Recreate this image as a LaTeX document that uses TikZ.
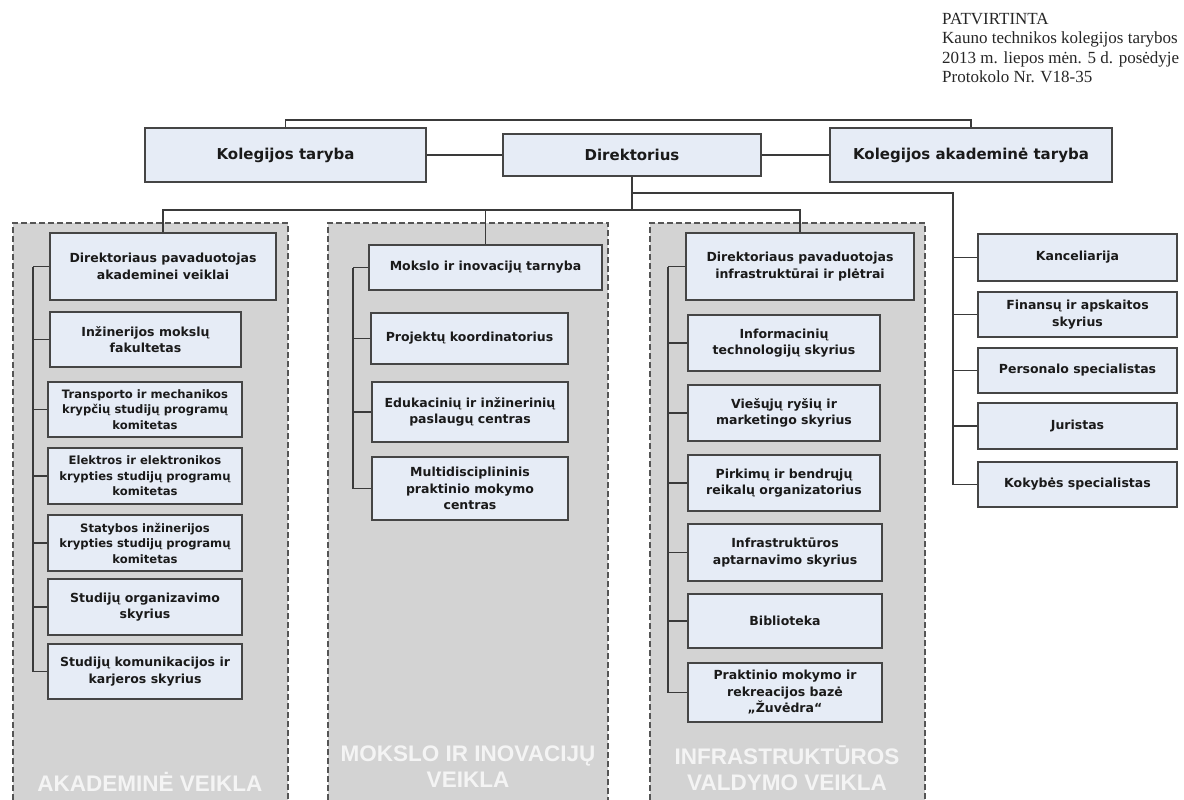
\documentclass[tikz,border=0pt]{standalone}
\usepackage{fontspec}
\setmainfont{Liberation Serif}
\newfontfamily\boxfont{DejaVu Sans}
\newfontfamily\lblfont{Liberation Sans}
\definecolor{boxfill}{HTML}{E6ECF6}
\definecolor{boxborder}{HTML}{454545}
\definecolor{linec}{HTML}{3A3A3A}
\definecolor{grpfill}{HTML}{D3D3D3}
\definecolor{grpline}{HTML}{555555}
\definecolor{textc}{HTML}{1A1A1A}
\definecolor{lblc}{HTML}{F4F4F4}
\newcommand\mkbox[7]{\node[#1, minimum width={#5-#3}, minimum height={#6-#4}] (#2) at ({(#3+#5)/2},{(#4+#6)/2}) {#7};}
\begin{document}
\begin{tikzpicture}[x=1pt,y=-1pt,
  box/.style={draw=boxborder, line width=1.4pt, fill=boxfill, align=center, inner sep=1pt, text=textc,
    font=\boxfont\bfseries\fontsize{12.5}{16.5}\selectfont},
  sbox/.style={box, font=\boxfont\bfseries\fontsize{11.6}{15.5}\selectfont},
  tbox/.style={box, font=\boxfont\bfseries\fontsize{15}{18}\selectfont},
  conn/.style={draw=linec, line width=1.3pt},
  grp/.style={fill=grpfill, draw=none},
  grpedge/.style={draw=grpline, line width=1.2pt, dash pattern=on 6pt off 3pt},
  lbl/.style={text=lblc, align=center, inner sep=0pt, font=\lblfont\bfseries\fontsize{22.5}{26}\selectfont}]
\useasboundingbox (0,0) rectangle (1184,800);
\fill[white] (0,0) rectangle (1184,800);

% approval text
\node[anchor=north west, align=left, inner sep=0pt, text=black!85, font=\fontsize{17}{19.5}\selectfont] (appr) at (942,13)
  {PATVIRTINTA\\Kauno technikos kolegijos tarybos\\2013 m. liepos mėn. 5 d. posėdyje\\Protokolo Nr. V18-35};

% group backgrounds
\fill[grp] (13,223) rectangle (288,800);
\fill[grp] (328,223) rectangle (608,800);
\fill[grp] (650,223) rectangle (925,800);
\draw[grpedge] (13,800) -- (13,223) -- (288,223) -- (288,800);
\draw[grpedge] (328,800) -- (328,223) -- (608,223) -- (608,800);
\draw[grpedge] (650,800) -- (650,223) -- (925,223) -- (925,800);

\node[lbl] (lA) at (150,782) {AKADEMINĖ VEIKLA};
\node[lbl] (lM) at (468,767) {MOKSLO IR INOVACIJŲ\\VEIKLA};
\node[lbl] (lI) at (787,768) {INFRASTRUKTŪROS\\VALDYMO VEIKLA};

% top boxes
\mkbox{tbox}{kt}{145}{128}{426}{182}{Kolegijos taryba}
\mkbox{tbox}{dir}{503}{134}{761}{176}{Direktorius}
\mkbox{tbox}{kat}{830}{128}{1112}{182}{Kolegijos akademinė taryba}

% academic group
\mkbox{box}{a1}{50}{233}{276}{300}{Direktoriaus pavaduotojas\\akademinei veiklai}
\mkbox{box}{a2}{50}{312}{241}{367}{Inžinerijos mokslų\\fakultetas}
\mkbox{sbox}{a3}{48}{382}{242}{437}{Transporto ir mechanikos\\krypčių studijų programų\\komitetas}
\mkbox{sbox}{a4}{48}{448}{242}{504}{Elektros ir elektronikos\\krypties studijų programų\\komitetas}
\mkbox{sbox}{a5}{48}{515}{242}{571}{Statybos inžinerijos\\krypties studijų programų\\komitetas}
\mkbox{box}{a6}{48}{579}{242}{635}{Studijų organizavimo\\skyrius}
\mkbox{box}{a7}{48}{644}{242}{699}{Studijų komunikacijos ir\\karjeros skyrius}

% science group
\mkbox{box}{m1}{369}{245}{602}{290}{Mokslo ir inovacijų tarnyba}
\mkbox{box}{m2}{371}{313}{568}{364}{Projektų koordinatorius}
\mkbox{box}{m3}{372}{382}{568}{442}{Edukacinių ir inžinerinių\\paslaugų centras}
\mkbox{box}{m4}{372}{457}{568}{520}{Multidisciplininis\\praktinio mokymo\\centras}

% infrastructure group
\mkbox{box}{i1}{686}{233}{914}{300}{Direktoriaus pavaduotojas\\infrastruktūrai ir plėtrai}
\mkbox{box}{i2}{688}{315}{880}{371}{Informacinių\\technologijų skyrius}
\mkbox{box}{i3}{688}{385}{880}{441}{Viešųjų ryšių ir\\marketingo skyrius}
\mkbox{box}{i4}{688}{455}{880}{511}{Pirkimų ir bendrųjų\\reikalų organizatorius}
\mkbox{box}{i5}{688}{524}{882}{581}{Infrastruktūros\\aptarnavimo skyrius}
\mkbox{box}{i6}{688}{594}{882}{648}{Biblioteka}
\mkbox{box}{i7}{688}{663}{882}{722}{Praktinio mokymo ir\\rekreacijos bazė\\„Žuvėdra“}

% right column
\mkbox{box}{r1}{978}{234}{1177}{281}{Kanceliarija}
\mkbox{box}{r2}{978}{292}{1177}{337}{Finansų ir apskaitos\\skyrius}
\mkbox{box}{r3}{978}{348}{1177}{393}{Personalo specialistas}
\mkbox{box}{r4}{978}{403}{1177}{449}{Juristas}
\mkbox{box}{r5}{978}{462}{1177}{507}{Kokybės specialistas}

% helper coordinates
\coordinate (topy) at (0,120);
\coordinate (bus) at (0,210);
\coordinate (rtop) at (953,193);
\coordinate (av) at (33,0);
\coordinate (mv) at (353,0);
\coordinate (iv) at (668,0);

% connectors
\draw[conn] (kt.north) -- (kt.north |- topy) -- (kat.north |- topy) -- (kat.north);
\draw[conn] (kt.east) -- (dir.west);
\draw[conn] (dir.east) -- (kat.west);
\draw[conn] (dir.south) -- (dir.south |- bus);
\draw[conn] (a1.north) -- (a1.north |- bus) -- (i1.north |- bus) -- (i1.north);
\draw[conn] (m1.north) -- (m1.north |- bus);
\draw[conn] (dir.south |- rtop) -- (rtop) -- (rtop |- r5.west) -- (r5.west);
\foreach \n in {r1,r2,r3,r4} \draw[conn] (rtop |- \n.west) -- (\n.west);
\draw[conn] (av |- a1.west) -- (av |- a7.west) -- (a7.west);
\foreach \n in {a1,a2,a3,a4,a5,a6} \draw[conn] (av |- \n.west) -- (\n.west);
\draw[conn] (mv |- m1.west) -- (mv |- m4.west) -- (m4.west);
\foreach \n in {m1,m2,m3} \draw[conn] (mv |- \n.west) -- (\n.west);
\draw[conn] (iv |- i1.west) -- (iv |- i7.west) -- (i7.west);
\foreach \n in {i1,i2,i3,i4,i5,i6} \draw[conn] (iv |- \n.west) -- (\n.west);
\end{tikzpicture}
\end{document}
